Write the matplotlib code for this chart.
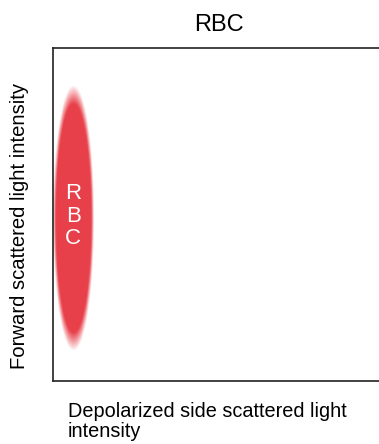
import numpy as np
import matplotlib
matplotlib.use("Agg")
import matplotlib.pyplot as plt
from matplotlib.colors import to_rgb

plt.rcParams["font.family"] = ["Liberation Sans", "DejaVu Sans"]

TITLE = "RBC"
X_LABEL = "Depolarized side scattered light\nintensity"
Y_LABEL = "Forward scattered light intensity"
CLUSTER_LABEL = "R\nB\nC"
# cluster ellipse in axes units: centre, full width, full height
CLUSTER_CENTER = (0.061, 0.488)
CLUSTER_SIZE = (0.116, 0.745)
CLUSTER_COLOR = "#e8404a"

fig = plt.figure(figsize=(3.79, 4.44), dpi=100)
ax = fig.add_axes([53 / 379, 1 - 381 / 444, 332 / 379, 333 / 444])
ax.set_xlim(0, 1)
ax.set_ylim(0, 1)
ax.set_xticks([])
ax.set_yticks([])
for s in ax.spines.values():
    s.set_linewidth(1.2)
    s.set_color("#222222")
ax.spines["right"].set_visible(False)  # cropped off in the original figure

# soft-edged ellipse drawn as an RGBA image
gx = np.linspace(0, 1, 400)
gy = np.linspace(0, 1, 600)
X, Y = np.meshgrid(gx, gy)
cx, cy = CLUSTER_CENTER
w, h = CLUSTER_SIZE
r = np.sqrt(((X - cx) / (w / 2)) ** 2 + ((Y - cy) / (h / 2)) ** 2)
alpha = np.clip((1.07 - r) / 0.15, 0, 1)
img = np.zeros((gy.size, gx.size, 4))
img[..., :3] = to_rgb(CLUSTER_COLOR)
img[..., 3] = alpha
ax.imshow(img, extent=(0, 1, 0, 1), origin="lower", aspect="auto", interpolation="bilinear")

ax.text(cx, 0.495, CLUSTER_LABEL, color="white", fontsize=16, ha="center", va="center",
        linespacing=1.1)

fig.text(219 / 379, 1 - 25 / 444, TITLE, fontsize=17, ha="center", va="center")
fig.text(20 / 379, 1 - 226 / 444, Y_LABEL, fontsize=14.6, rotation=90, ha="center", va="center")
fig.text(68 / 379, 1 - 402 / 444, X_LABEL, fontsize=14.3, ha="left", va="top", linespacing=1.05)

fig.savefig("out.png", dpi=100)
